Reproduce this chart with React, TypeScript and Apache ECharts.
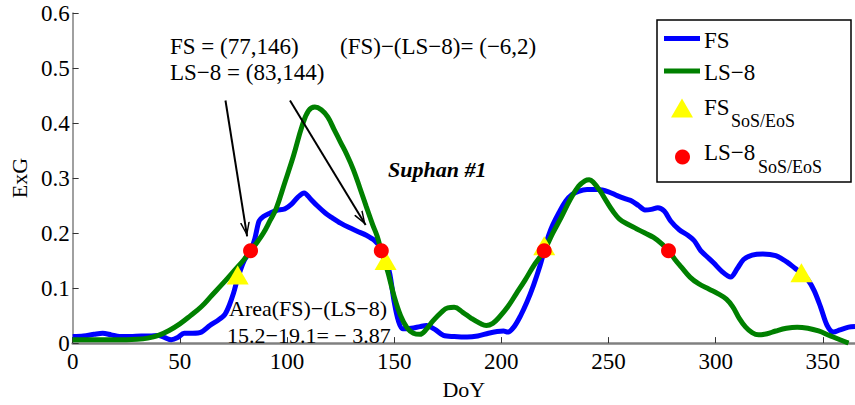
import React, { useEffect, useRef } from "react";
import * as echarts from "echarts";

// FS curve (day of year, ExG)
const fsDays = [
  0, 5, 10, 14, 18, 22, 27, 32, 36, 40, 43, 46, 49, 52, 56, 60, 64, 68, 71, 73, 75, 77, 80, 83, 85, 87, 89,
  92, 95, 99, 102, 105, 108, 111, 114, 118, 121, 125, 129, 133, 137, 141, 144, 146, 148, 150, 152, 154, 158,
  162, 165, 169, 173, 178, 184, 189, 194, 198, 201, 203, 206, 209, 212, 215, 218, 220, 222, 224, 227, 230,
  233, 236, 240, 245, 250, 254, 258, 261, 264, 267, 270, 273, 276, 279, 283, 287, 290, 293, 296, 299, 303,
  307, 310, 313, 317, 322, 328, 333, 337, 340, 343, 346, 349, 352, 355, 358, 362, 365,
];
const fsExG = [
  0.012, 0.013, 0.016, 0.018, 0.015, 0.012, 0.012, 0.013, 0.013, 0.014, 0.01, 0.006, 0.01, 0.018, 0.018,
  0.02, 0.032, 0.042, 0.052, 0.068, 0.09, 0.118, 0.15, 0.168, 0.19, 0.222, 0.23, 0.236, 0.241, 0.244, 0.252,
  0.265, 0.273, 0.262, 0.25, 0.236, 0.228, 0.218, 0.21, 0.203, 0.196, 0.186, 0.172, 0.155, 0.125, 0.075,
  0.04, 0.026, 0.027, 0.03, 0.032, 0.025, 0.014, 0.012, 0.011, 0.013, 0.018, 0.021, 0.022, 0.02, 0.03,
  0.05, 0.075, 0.105, 0.14, 0.168, 0.195, 0.215, 0.238, 0.258, 0.27, 0.276, 0.279, 0.279, 0.275, 0.268,
  0.262, 0.258, 0.25, 0.242, 0.243, 0.246, 0.24, 0.222, 0.206, 0.196, 0.186, 0.168, 0.157, 0.146, 0.13,
  0.12, 0.135, 0.152, 0.16, 0.162, 0.159, 0.148, 0.136, 0.127, 0.115, 0.095, 0.065, 0.032, 0.02, 0.024,
  0.029, 0.03,
];

// LS-8 curve (day of year, ExG)
const lsDays = [
  0, 10, 20, 30, 35, 40, 45, 50, 55, 60, 65, 70, 75, 80, 83, 86, 89, 92, 95, 99, 103, 107, 110, 113, 116,
  119, 122, 125, 128, 131, 134, 137, 140, 142, 144, 147, 150, 153, 156, 159, 162, 165, 168, 172, 175, 178,
  182, 186, 190, 193, 196, 199, 203, 207, 211, 215, 220, 224, 228, 232, 236, 239, 241, 243, 246, 249, 252,
  255, 259, 263, 267, 271, 275, 278, 281, 284, 288, 292, 297, 301, 305, 308, 311, 314, 317, 320, 324, 328,
  333, 338, 343, 348, 353, 358, 362,
];
const lsExG = [
  0.006, 0.006, 0.006, 0.007, 0.009, 0.014, 0.023, 0.035, 0.05, 0.066, 0.087, 0.108, 0.13, 0.152, 0.168,
  0.183, 0.2, 0.222, 0.245, 0.292, 0.34, 0.394, 0.422, 0.429, 0.424, 0.411, 0.388, 0.365, 0.342, 0.315,
  0.282, 0.248, 0.215, 0.195, 0.168, 0.13, 0.085, 0.05, 0.028, 0.018, 0.016, 0.025, 0.04, 0.056, 0.064,
  0.065, 0.056, 0.045, 0.036, 0.032, 0.036, 0.047, 0.066, 0.09, 0.114, 0.14, 0.168, 0.2, 0.229, 0.26,
  0.285, 0.295, 0.297, 0.292, 0.277, 0.258, 0.24, 0.226, 0.216, 0.208, 0.2, 0.192, 0.18, 0.168, 0.152,
  0.138, 0.12, 0.108, 0.098, 0.09, 0.08, 0.066, 0.045, 0.029, 0.019, 0.015, 0.017, 0.022, 0.027, 0.029,
  0.027, 0.022, 0.014, 0.006, 0.0,
];

// Start / end of season markers
const fsSosEosDays = [77, 146, 220, 340];
const fsSosEosExG = [0.124, 0.15, 0.177, 0.128];
const lsSosEosDays = [83, 144, 220, 278];
const lsSosEosExG = [0.168, 0.168, 0.168, 0.168];

// Arrows pointing at the LS-8 SoS / EoS dates: [fromDay, fromExG, toDay, toExG]
const arrows = [
  [71.3, 0.441, 81.4, 0.194],
  [101.4, 0.441, 136.7, 0.2146],
];

const xTicks = { min: 0, max: 365, interval: 50 };
const yTicks = { min: 0, max: 0.6, interval: 0.1 };

const SERIF = "Liberation Serif, Times New Roman, serif";

const pairs = (xs: number[], ys: number[]) => xs.map((x, i) => [x, ys[i]]);

// Open chevron arrow head; the empty sub-path keeps the tip at the symbol centre
const CHEVRON = "path://M5,-13L5,-13Z M5,0L10,13L8.4,13L5,3.6L1.6,13L0,13Z";

export default function App() {
  const ref = useRef<HTMLDivElement>(null);

  useEffect(() => {
    if (!ref.current) return;
    const chart = echarts.init(ref.current, undefined, { renderer: "svg" });

    const text = (
      str: string,
      x: number,
      y: number,
      size: number,
      extra: Record<string, unknown> = {}
    ) => ({
      type: "text",
      x,
      y,
      z: 20,
      style: {
        text: str,
        fontFamily: SERIF,
        fontSize: size,
        fill: "#000",
        align: "left",
        verticalAlign: "middle",
        ...extra,
      },
    });

    chart.setOption({
      animation: false,
      backgroundColor: "#fff",
      textStyle: { fontFamily: SERIF },
      grid: { left: 68, right: -5, top: 13, bottom: 52, containLabel: false },
      xAxis: {
        type: "value",
        min: xTicks.min,
        max: xTicks.max,
        interval: xTicks.interval,
        name: "DoY",
        nameLocation: "middle",
        nameGap: 25,
        nameTextStyle: { fontFamily: SERIF, fontSize: 22, color: "#000" },
        axisLine: { show: true, onZero: false, lineStyle: { color: "#808080", width: 2.5 } },
        axisTick: { show: true, inside: true, length: 6, lineStyle: { color: "#333", width: 1 } },
        axisLabel: {
          fontFamily: SERIF,
          fontSize: 23,
          color: "#000",
          margin: 7,
          showMaxLabel: false,
        },
        splitLine: { show: false },
      },
      yAxis: {
        type: "value",
        min: yTicks.min,
        max: yTicks.max,
        interval: yTicks.interval,
        name: "ExG",
        nameLocation: "middle",
        nameGap: 40,
        nameTextStyle: { fontFamily: SERIF, fontSize: 22, color: "#000" },
        axisLine: { show: true, lineStyle: { color: "#808080", width: 1.5 } },
        axisTick: { show: true, inside: true, length: 6, lineStyle: { color: "#333", width: 1 } },
        axisLabel: {
          fontFamily: SERIF,
          fontSize: 23,
          color: "#000",
          margin: 3,
          formatter: (v: number) => (v === 0 ? "0" : v.toFixed(1)),
        },
        splitLine: { show: false },
      },
      series: [
        {
          name: "FS",
          type: "line",
          data: pairs(fsDays, fsExG),
          smooth: 0.3,
          showSymbol: false,
          lineStyle: { color: "#0000ff", width: 5 },
          itemStyle: { color: "#0000ff" },
          z: 2,
          markLine: {
            silent: true,
            symbol: ["none", CHEVRON],
            symbolSize: [10, 28],
            label: { show: false },
            lineStyle: { color: "#000", width: 2, type: "solid" },
            data: arrows.map(([x0, y0, x1, y1]) => [{ coord: [x0, y0] }, { coord: [x1, y1] }]),
          },
        },
        {
          name: "LS−8",
          type: "line",
          data: pairs(lsDays, lsExG),
          smooth: 0.4,
          showSymbol: false,
          lineStyle: { color: "#008000", width: 5 },
          itemStyle: { color: "#008000" },
          z: 3,
        },
        {
          name: "FS SoS/EoS",
          type: "scatter",
          data: pairs(fsSosEosDays, fsSosEosExG),
          symbol: "triangle",
          symbolSize: [22, 19],
          itemStyle: { color: "#ffff00", opacity: 1 },
          z: 4,
        },
        {
          name: "LS−8 SoS/EoS",
          type: "scatter",
          data: pairs(lsSosEosDays, lsSosEosExG),
          symbol: "circle",
          symbolSize: 15,
          itemStyle: { color: "#ff0000", opacity: 1 },
          z: 5,
        },
      ],
      graphic: [
        // annotations
        text("FS = (77,146)", 170, 46, 23),
        text("LS−8 = (83,144)", 170, 72, 23),
        text("(FS)−(LS−8)= (−6,2)", 340, 46, 23),
        text("Suphan #1", 388, 169, 22, { fontStyle: "italic", fontWeight: "bold" }),
        text("Area(FS)−(LS−8)", 229, 308, 22),
        text("15.2−19.1= − 3.87", 227, 335, 22),
        // legend box
        {
          type: "rect",
          z: 30,
          shape: { x: 657, y: 20, width: 194, height: 162 },
          style: { fill: "#fff", stroke: "#000", lineWidth: 1.5 },
        },
        {
          type: "line",
          z: 31,
          shape: { x1: 664, y1: 38.5, x2: 700, y2: 38.5 },
          style: { stroke: "#0000ff", lineWidth: 5 },
        },
        {
          type: "line",
          z: 31,
          shape: { x1: 664, y1: 71, x2: 700, y2: 71 },
          style: { stroke: "#008000", lineWidth: 5 },
        },
        {
          type: "polygon",
          z: 31,
          shape: { points: [[671, 117.5], [693, 117.5], [682, 98.5]] },
          style: { fill: "#ffff00" },
        },
        {
          type: "circle",
          z: 31,
          shape: { cx: 682.5, cy: 157, r: 7.5 },
          style: { fill: "#ff0000" },
        },
        { ...text("FS", 704, 40, 23), z: 32 },
        { ...text("LS−8", 704, 72.5, 23), z: 32 },
        { ...text("FS", 704, 107, 23), z: 32 },
        { ...text("SoS/EoS", 731, 121, 18), z: 32 },
        { ...text("LS−8", 704, 152.5, 23), z: 32 },
        { ...text("SoS/EoS", 758, 167, 18), z: 32 },
      ],
    });

    return () => chart.dispose();
  }, []);

  return (
    <div
      ref={ref}
      style={{ position: "fixed", left: 0, top: 0, width: 855, height: 405, background: "#fff" }}
    />
  );
}
